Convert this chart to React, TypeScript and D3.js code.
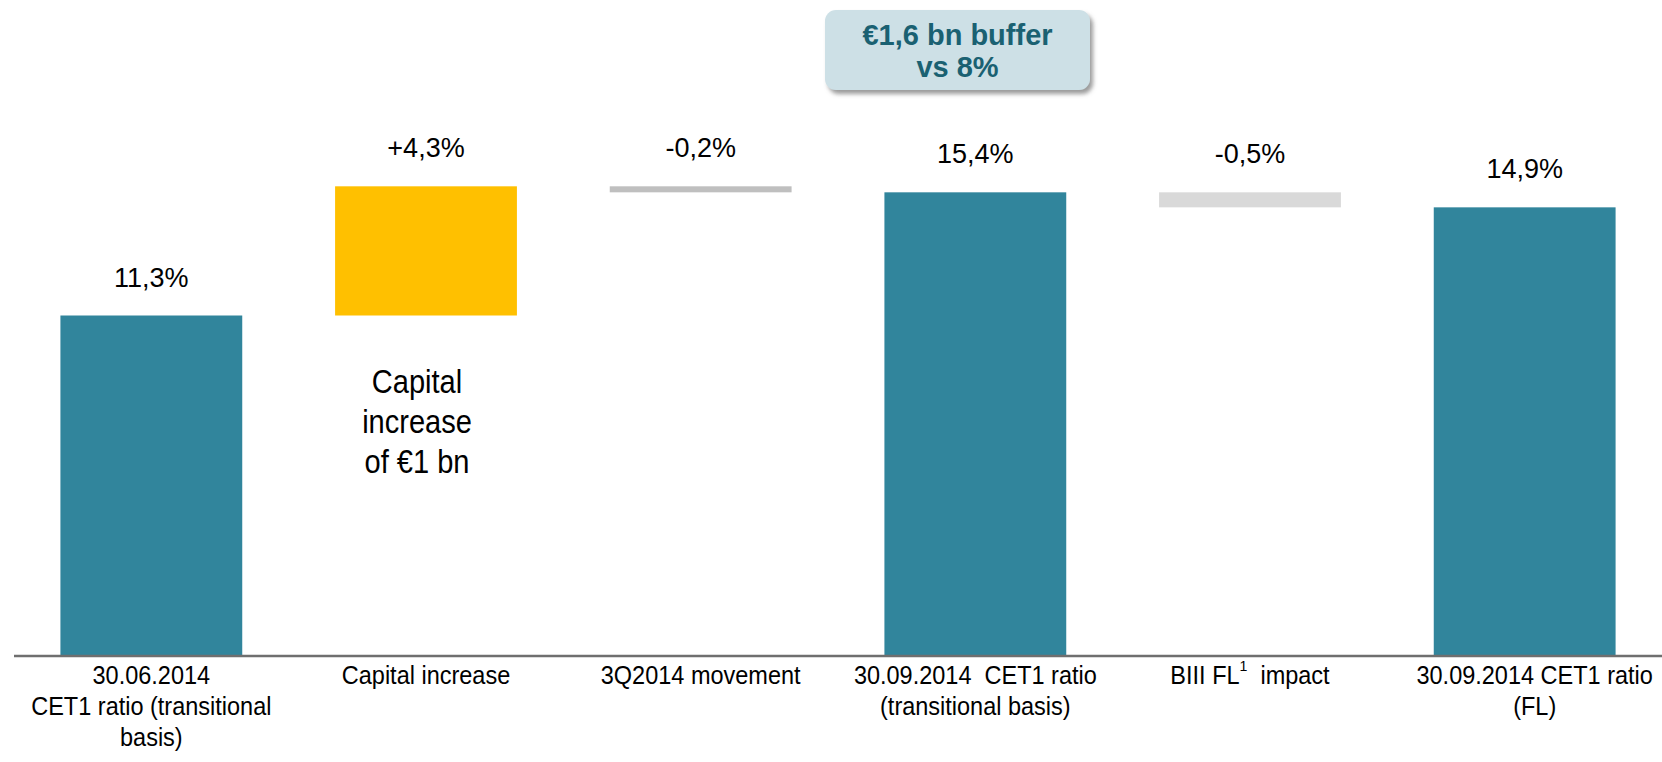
import React from 'react';
import * as d3 from 'd3';

// ---- data ----
const categories = [
  '30.06.2014\nCET1 ratio (transitional\nbasis)',
  'Capital increase',
  '3Q2014 movement',
  '30.09.2014  CET1 ratio\n(transitional basis)',
  'BIII FL{1}  impact',
  '30.09.2014 CET1 ratio\n(FL)',
];
const values = [11.3, 4.3, -0.2, 15.4, -0.5, 14.9];
const kinds = ['total', 'delta', 'delta', 'total', 'delta', 'total'];
const valueLabels = ['11,3%', '+4,3%', '-0,2%', '15,4%', '-0,5%', '14,9%'];
const barColors = ['#31859C', '#FFC000', '#BFBFBF', '#31859C', '#D9D9D9', '#31859C'];
const annotationLines = ['Capital', 'increase', 'of €1 bn'];
const calloutLines = ['€1,6 bn buffer', 'vs 8%'];

// layout tweaks (not data)
const labelShift = [0, 0, 0, 0, 0, 10];

const W = 1662;
const H = 762;
const FONT = '"Liberation Sans", Arial, Helvetica, sans-serif';
const CAT_SCALE = 0.94;

type Seg = { i: number; lo: number; hi: number };

function buildSegments(): Seg[] {
  let running = 0;
  return values.map((v, i) => {
    if (kinds[i] === 'total') {
      running = v;
      return { i, lo: 0, hi: v };
    }
    const start = running;
    const end = running + v;
    running = end;
    return { i, lo: Math.min(start, end), hi: Math.max(start, end) };
  });
}

function splitSup(text: string) {
  const parts: { t: string; sup: boolean }[] = [];
  const re = /\{([^}]*)\}/g;
  let last = 0;
  let m: RegExpExecArray | null;
  while ((m = re.exec(text))) {
    if (m.index > last) parts.push({ t: text.slice(last, m.index), sup: false });
    parts.push({ t: m[1], sup: true });
    last = m.index + m[0].length;
  }
  if (last < text.length) parts.push({ t: text.slice(last), sup: false });
  return parts;
}

export default function App() {
  const x = d3
    .scaleBand<string>()
    .domain(categories.map((_, i) => String(i)))
    .range([14, W])
    .paddingInner(0.338)
    .paddingOuter(0.169);
  const y = d3.scaleLinear().domain([0, 11.3]).range([655, 315.5]);
  const segs = buildSegments();
  const bw = x.bandwidth();

  return (
    <svg
      width={W}
      height={H}
      style={{ position: 'absolute', left: 0, top: 0, display: 'block', background: '#fff' }}
      fontFamily={FONT}
    >
      <defs>
        <filter id="shadow" x="-10%" y="-20%" width="130%" height="150%">
          <feDropShadow dx="3" dy="4" stdDeviation="2.2" floodColor="#7a7a7a" floodOpacity="0.75" />
        </filter>
      </defs>

      {/* callout */}
      <g>
        <rect x={825} y={10} width={265} height={80} rx={11} fill="#CDE0E6" filter="url(#shadow)" />
        {calloutLines.map((t, k) => (
          <text
            key={k}
            x={957.5}
            y={45 + k * 32}
            textAnchor="middle"
            fontSize={29}
            fontWeight="bold"
            fill="#1A6172"
          >
            {t}
          </text>
        ))}
      </g>

      {/* bars */}
      {segs.map((s) => (
        <rect
          key={s.i}
          x={x(String(s.i))}
          y={y(s.hi)}
          width={bw}
          height={y(s.lo) - y(s.hi)}
          fill={barColors[s.i]}
        />
      ))}

      {/* value labels */}
      {segs.map((s) => (
        <text
          key={'v' + s.i}
          x={(x(String(s.i)) as number) + bw / 2}
          y={y(s.hi) - 29}
          textAnchor="middle"
          fontSize={27}
          fill="#000"
        >
          {valueLabels[s.i]}
        </text>
      ))}

      {/* annotation */}
      {annotationLines.map((t, k) => (
        <text
          key={'a' + k}
          transform={`translate(417,${393 + k * 40}) scale(0.88,1)`}
          textAnchor="middle"
          fontSize={33}
          fill="#000"
        >
          {t}
        </text>
      ))}

      {/* axis */}
      <line x1={14} x2={W} y1={656} y2={656} stroke="#6F6F6F" strokeWidth={2.5} />

      {/* category labels */}
      {categories.map((c, i) => {
        const cx = (x(String(i)) as number) + bw / 2 + labelShift[i];
        return c.split('\n').map((ln, k) => {
          const parts = splitSup(ln);
          return (
            <text
              key={'c' + i + '-' + k}
              transform={`translate(${cx},${684 + k * 31}) scale(${CAT_SCALE},1)`}
              textAnchor="middle"
              fontSize={25}
              fill="#000"
              style={{ whiteSpace: 'pre' }}
            >
              {parts.map((p, j) =>
                p.sup ? (
                  <tspan key={j} fontSize={15} dy={-13}>
                    {p.t}
                  </tspan>
                ) : j > 0 && parts[j - 1].sup ? (
                  <tspan key={j} dy={13}>
                    {p.t}
                  </tspan>
                ) : (
                  <tspan key={j}>{p.t}</tspan>
                )
              )}
            </text>
          );
        });
      })}
    </svg>
  );
}
